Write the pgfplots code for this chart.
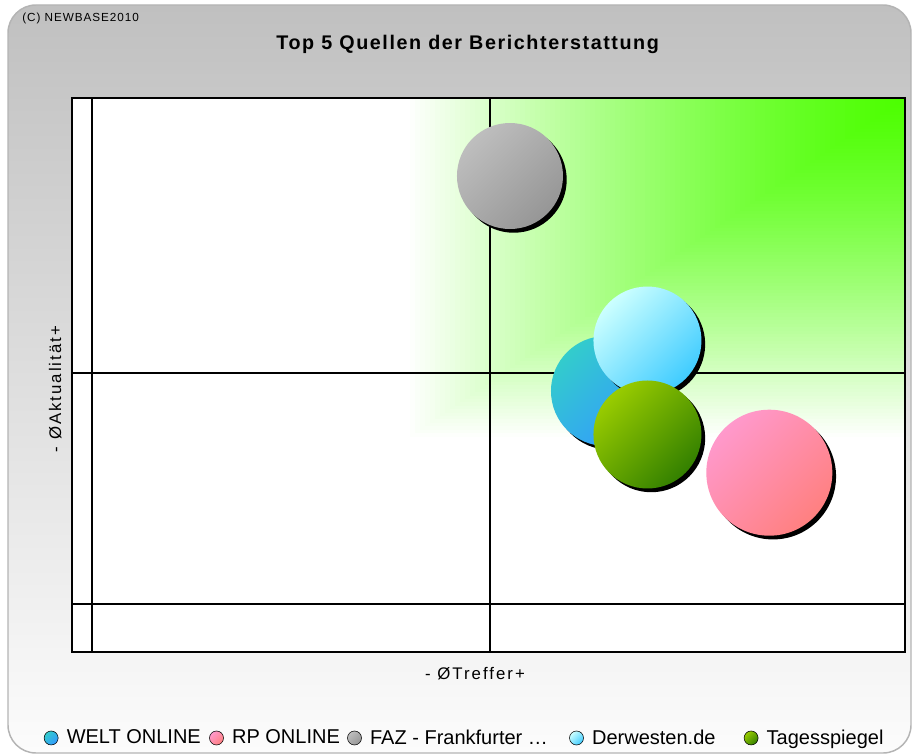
\documentclass[border=0pt]{standalone}
\usepackage{fontspec}
\setmainfont{Liberation Sans}
\newfontfamily\lsfont[LetterSpace=12]{Liberation Sans}
\newfontfamily\ttlfont[LetterSpace=8]{Liberation Sans}
\newfontfamily\cfont[LetterSpace=8]{Liberation Sans}
\usepackage{pgfplots}
\pgfplotsset{compat=1.18}

\definecolor{frameTop}{HTML}{C0C0C0}
\definecolor{frameBot}{HTML}{FCFCFC}
\definecolor{frameLine}{HTML}{B4B4B4}
\definecolor{gcorner}{HTML}{4CFF00}
\definecolor{weltA}{HTML}{33CCCC}
\definecolor{weltB}{HTML}{3399FF}
\definecolor{rpA}{HTML}{FF99CC}
\definecolor{rpB}{HTML}{FF8080}
\definecolor{fazA}{HTML}{BEBEBE}
\definecolor{fazB}{HTML}{969696}
\definecolor{derA}{HTML}{CCFFFF}
\definecolor{derB}{HTML}{40CCFF}
\definecolor{tagA}{HTML}{99CC00}
\definecolor{tagB}{HTML}{338000}

% bubble: r column is the radius in px (1px = 0.75pt)
% inside the axis plain numbers mean axis cs, so the marker code uses pt
\pgfplotsset{
  bubble/.style 2 args={
    scatter, only marks, mark=*, mark size=0pt,
    visualization depends on={0.75*\thisrow{r} \as \rad},
    scatter/@pre marker code/.code={%
      \fill[black, draw=none] (2.8pt,-2.8pt) circle[radius=\rad pt];
      \shade[draw=none, top color=#1, bottom color=#2, shading angle=45]
        (0pt,0pt) circle[radius=\rad pt];
      \scope[opacity=0]},
    scatter/@post marker code/.code={\endscope},
    legend image code/.code={%
      \shade[top color=#1, bottom color=#2, shading angle=45] (0pt,0pt) circle[radius=5.25pt];},
  },
}

\begin{document}
\begin{tikzpicture}[x=0.75pt,y=-0.75pt]
\path[use as bounding box] (0,0) rectangle (913,756);
% outer panel
\path[top color=frameTop, bottom color=frameBot, draw=frameLine, line width=1.1pt,
  rounded corners=21pt] (8,5) rectangle (911,753);
\fill[white] (72,98) rectangle (905,652);
% green corner gradient (upper right)
\foreach \i in {100,99,...,1}{
  \pgfmathsetmacro\s{100*(1-(\i/100)^1.3)}
  \fill[gcorner!\s!white] (905-5*\i,98) rectangle (905,98+3.42*\i);
}
\node[anchor=base west, inner sep=0pt, font=\cfont\fontsize{8.8}{10}\selectfont]
  at (22,21.3) {(C) NEWBASE2010};

\begin{axis}[
  at={(54pt,-489pt)}, anchor=south west,
  scale only axis, width=624.75pt, height=415.5pt,
  xmin=-0.25126, xmax=10.2136, ymin=-1.0390, ymax=10.9524,
  axis line style={black, line width=1.4pt},
  xtick=\empty, ytick=\empty,
  extra x ticks={0,5}, extra y ticks={0,5},
  extra x tick labels={,}, extra y tick labels={,},
  extra tick style={grid=major, major tick length=0pt},
  major grid style={black, line width=0.9pt},
  title={Top 5 Quellen der Berichterstattung},
  every axis title/.style={at={(axis description cs:0.475,1.0884)}, anchor=base,
    font=\ttlfont\bfseries\fontsize{14.8}{17}\selectfont},
  xlabel={- ØTreffer+},
  ylabel={- ØAktualität+},
  every axis x label/.style={at={(axis description cs:0.4838,-0.0505)}, anchor=base,
    font=\lsfont\fontsize{12.6}{15}\selectfont},
  every axis y label/.style={at={(axis description cs:-0.0132,0.4747)}, rotate=90,
    anchor=base, font=\lsfont\fontsize{12.6}{15}\selectfont},
  legend columns=5,
  legend cell align=left,
  legend style={at={(axis description cs:0.4718,-0.1552)}, anchor=center,
    draw=none, fill=none, font=\fontsize{15}{18}\selectfont,
    column sep=4.25pt,
    /tikz/column 2/.style={column sep=4.3pt},
    /tikz/column 4/.style={column sep=3.5pt},
    /tikz/column 6/.style={column sep=14pt},
    /tikz/column 8/.style={column sep=19.25pt}},
]
\addplot[bubble={weltA}{weltB}] table[row sep=\\] {x y r\\ 6.457 4.610 55\\};
\addlegendentry{WELT ONLINE}
\addplot[bubble={rpA}{rpB}] table[row sep=\\] {x y r\\ 8.509 2.842 63\\};
\addlegendentry{RP ONLINE}
\addplot[bubble={fazA}{fazB}] table[row sep=\\] {x y r\\ 5.251 9.264 53\\};
\addlegendentry{FAZ - Frankfurter \dots}
\addplot[bubble={derA}{derB}] table[row sep=\\] {x y r\\ 6.978 5.703 54\\};
\addlegendentry{Derwesten.de}
\addplot[bubble={tagA}{tagB}] table[row sep=\\] {x y r\\ 6.978 3.669 54\\};
\addlegendentry{Tagesspiegel}
\end{axis}
\end{tikzpicture}
\end{document}
